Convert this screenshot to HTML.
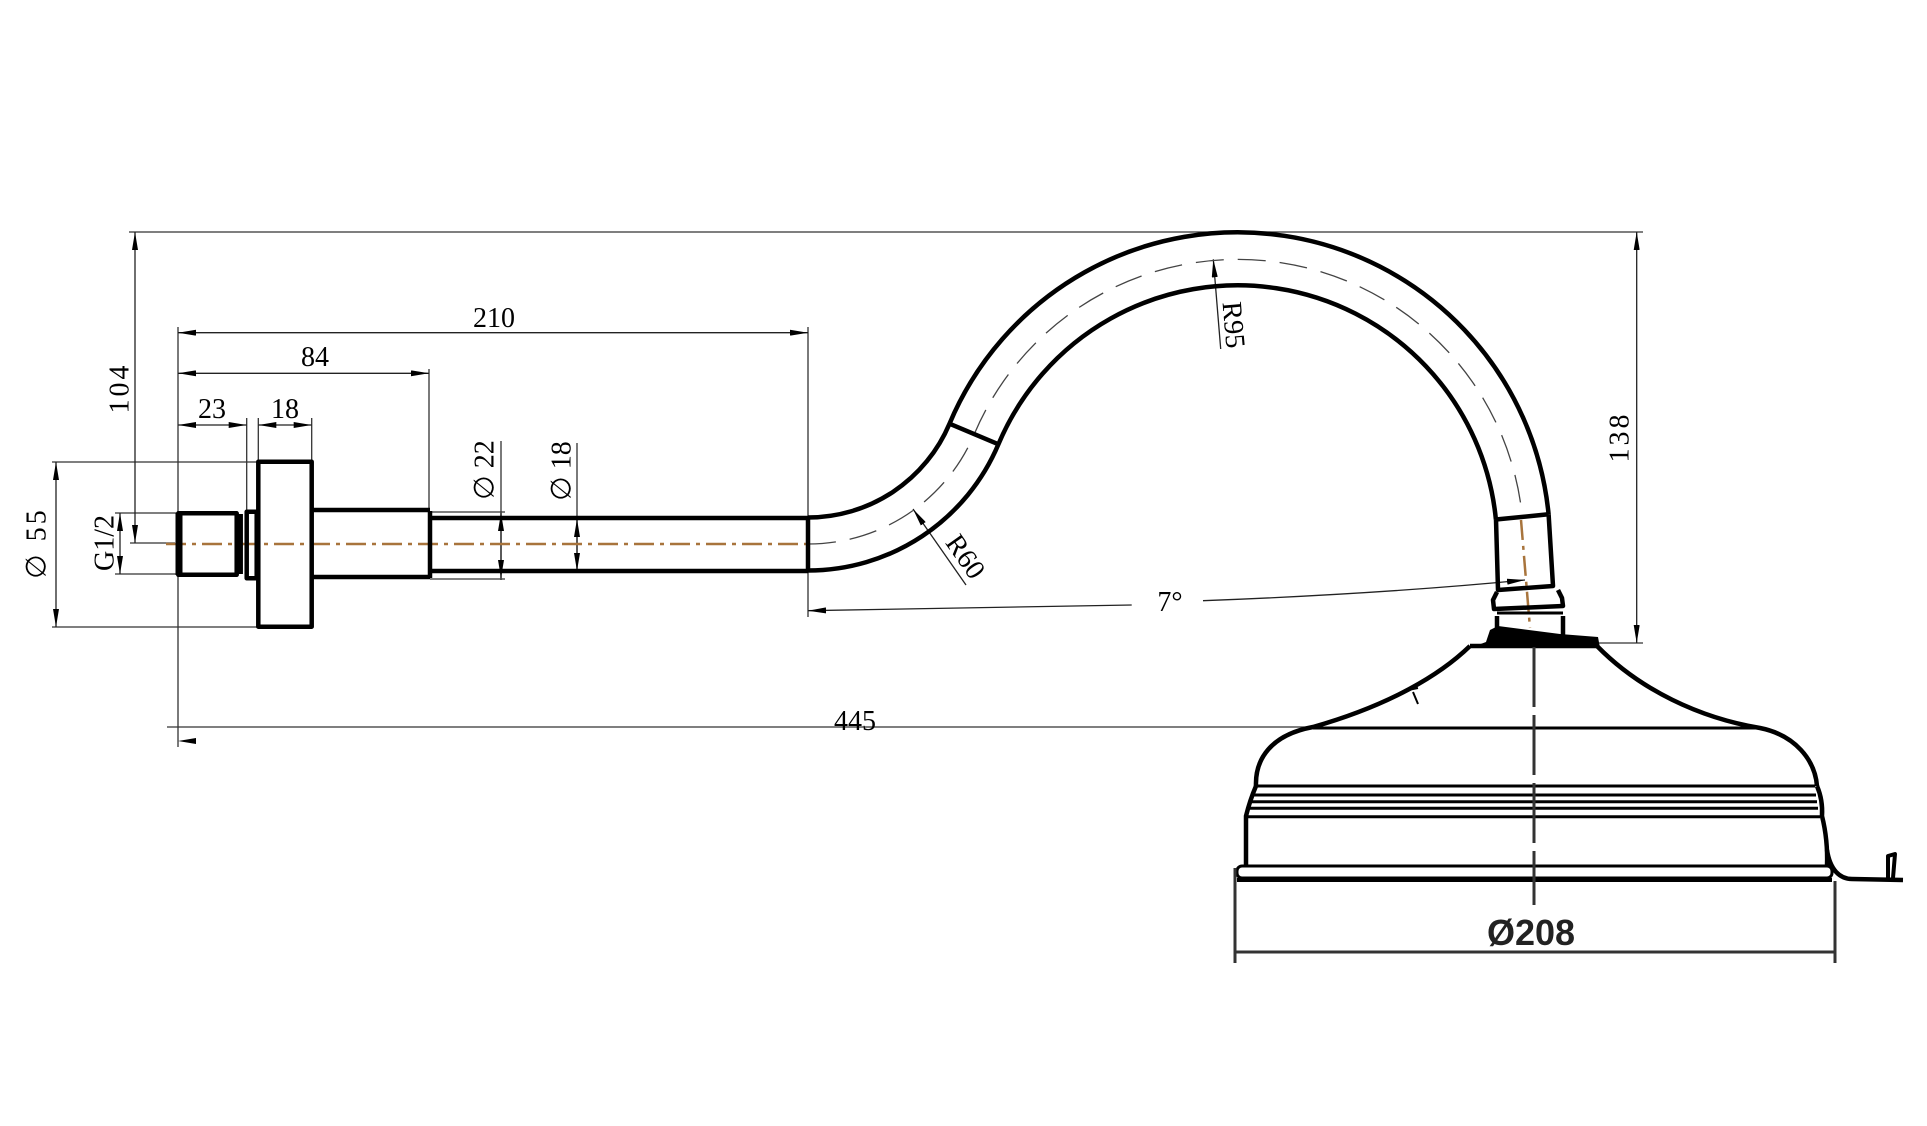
<!DOCTYPE html>
<html><head><meta charset="utf-8"><style>html,body{margin:0;padding:0;background:#fff}svg{display:block}</style></head>
<body>
<svg width="1927" height="1126" viewBox="0 0 1927 1126" xmlns="http://www.w3.org/2000/svg">
<defs>
<marker id="a" viewBox="0 0 18 6" refX="18" refY="3" markerWidth="18" markerHeight="6" markerUnits="userSpaceOnUse" orient="auto-start-reverse"><path d="M0,0 L18,3 L0,6 z" fill="#000"/></marker>
</defs>
<g fill="none" stroke="#333" stroke-width="1.3">
<path d="M129,232 H1643"/>
<path d="M178,327 V747"/><path d="M808,327 V617"/><path d="M429,369 V515"/>
<path d="M246.7,418 V511"/><path d="M258.3,418 V462"/><path d="M311.7,418 V462"/>
<path d="M52,462 H258"/><path d="M52,627 H258"/>
<path d="M115,513 H178"/><path d="M115,574 H178"/>
<path d="M130,543 H175"/>
<path d="M430,512 H505"/><path d="M430,579 H505"/>
<path d="M501,441 V580"/><path d="M577,443 V572"/>
<path d="M1590,643 H1643"/>
<path d="M167,727 H1313"/>
</g>
<g fill="none" stroke="#222" stroke-width="1.3" marker-start="url(#a)" marker-end="url(#a)">
<path d="M178,332.7 H808"/><path d="M178,373.3 H429"/>
<path d="M178,425 H246.7"/><path d="M258.3,425 H311.7"/>
<path d="M135,232 V543"/><path d="M56,462 V627"/><path d="M120,513 V574"/>
<path d="M501,513 V578"/><path d="M577,519 V571"/>
<path d="M1636.7,232 V643"/>
</g>
<g fill="none" stroke="#222" stroke-width="1.3" marker-end="url(#a)">
<path d="M1131.7,605 L808,610.7"/>
<path d="M1203,600.7 Q1380,594 1525,580"/>
<path d="M966,585 L913,509"/>
<path d="M1220.7,349 L1213.3,259.3"/>
</g>
<polygon points="178,741 196,738 196,744" fill="#000"/>
<!-- centerline -->
<path d="M166,544 H810" stroke="#a8743c" stroke-width="2.5" stroke-dasharray="20 6 4 6" fill="none"/>
<path d="M1521,520 L1530,628" stroke="#a8743c" stroke-width="2.5" stroke-dasharray="20 6 4 6" fill="none"/>
<path d="M808,544 A180,180 0 0 0 974.3,434 A286,286 0 0 1 1522.3,516.9" stroke="#444" stroke-width="1.3" stroke-dasharray="28 14" fill="none"/>
<!-- parts -->
<g fill="none" stroke="#000" stroke-width="4.5" stroke-linejoin="round">
<rect x="178.3" y="513.3" width="58.4" height="61.5"/>
<path d="M179,513 V575" stroke-width="7"/>
<path d="M240.7,514 V574"/>
<rect x="246.7" y="511.7" width="10" height="66.6"/>
<rect x="258.3" y="461.7" width="53.4" height="165"/>
<path d="M311.7,510 H430 M311.7,577 H430 M430,511 V578"/>
<path d="M430,518 H808 M430,571 H808 M808,517 V571"/>
<path d="M808,570.5 A206.5,206.5 0 0 0 998.4,444.3 A259.5,259.5 0 0 1 1495.9,519.5"/>
<path d="M808,517.5 A153.5,153.5 0 0 0 949.5,423.7 A312.5,312.5 0 0 1 1548.6,514.3"/>
<path d="M949.5,423.7 L998.5,444.3"/>
<path d="M1495.9,519.5 L1548.6,514.3"/>
<path d="M1496,519.5 L1498,590 L1553,586 L1548.6,514.3"/>
<path d="M1497,592 L1493,600 L1494,609 L1563,606 L1562,598 L1558,590"/>
<path d="M1497,613 H1563" stroke-width="3"/>
<path d="M1497,616 V635 M1563,616 V635"/>
</g>
<polygon points="1486,642 1490,630 1498,626 1560,634 1598,637 1600,648 1470,648" fill="#000"/>
<!-- shower head -->
<g fill="none" stroke="#000" stroke-width="4.5" stroke-linejoin="round">
<path d="M1470,646 L1597,646"/>
<path d="M1470,646 C1440,675 1390,705 1313,727 C1270,735 1255,760 1256,786"/>
<path d="M1597,646 C1640,690 1700,718 1760,728 C1795,735 1815,760 1817,786"/>
<path d="M1313,728 L1760,728" stroke-width="3"/>
<path d="M1256,786 H1815 M1252,795 H1816 M1250,801.7 H1817 M1249,808.3 H1818 M1247,816.7 H1820" stroke-width="3"/>
<path d="M1256,786 Q1250,800 1246,816 V866"/>
<path d="M1817,786 Q1823,800 1822,816 Q1828,840 1827,866"/>
<rect x="1237" y="866" width="595" height="12" rx="5" stroke-width="3"/>
<path d="M1237,880 H1832" stroke-width="4"/>
<path d="M1827,850 C1830,870 1840,879 1852,879 L1903,880"/>
<path d="M1888,880 L1888,856 L1895,854 L1893,878" stroke-width="4"/>
<path d="M1413,692 L1418,704 M1408,690 L1418,688" stroke-width="2"/>
</g>
<g fill="none" stroke="#333" stroke-width="3">
<path d="M1235,868 V963 M1835,881 V963 M1235,952 H1835"/>
<path d="M1534,647 V905" stroke-dasharray="60 8"/>
</g>
<!-- text -->
<g font-family="'Liberation Serif', 'DejaVu Serif', serif" font-size="28" fill="#000" text-anchor="middle">
<text x="494" y="327">210</text>
<text x="315" y="366">84</text>
<text x="212" y="418">23</text>
<text x="285" y="418">18</text>
<text x="855" y="730">445</text>
<text x="1170" y="611">7°</text>
<text transform="translate(120,388) rotate(-90)" dominant-baseline="central" letter-spacing="3">104</text>
<text transform="translate(37,543) rotate(-90)" dominant-baseline="central" letter-spacing="3">∅ 55</text>
<text transform="translate(105,543) rotate(-90)" dominant-baseline="central">G1/2</text>
<text transform="translate(485,470) rotate(-90)" dominant-baseline="central">∅ 22</text>
<text transform="translate(562,471) rotate(-90)" dominant-baseline="central">∅ 18</text>
<text transform="translate(1620,437) rotate(-90)" dominant-baseline="central" letter-spacing="3">138</text>
<text transform="translate(1233,325) rotate(85)" dominant-baseline="central">R95</text>
<text transform="translate(965,557) rotate(55)" dominant-baseline="central">R60</text>
</g>
<text x="1531" y="945" font-family="'Liberation Sans', sans-serif" font-weight="bold" font-size="36" text-anchor="middle" fill="#222">Ø208</text>
</svg>
</body></html>
